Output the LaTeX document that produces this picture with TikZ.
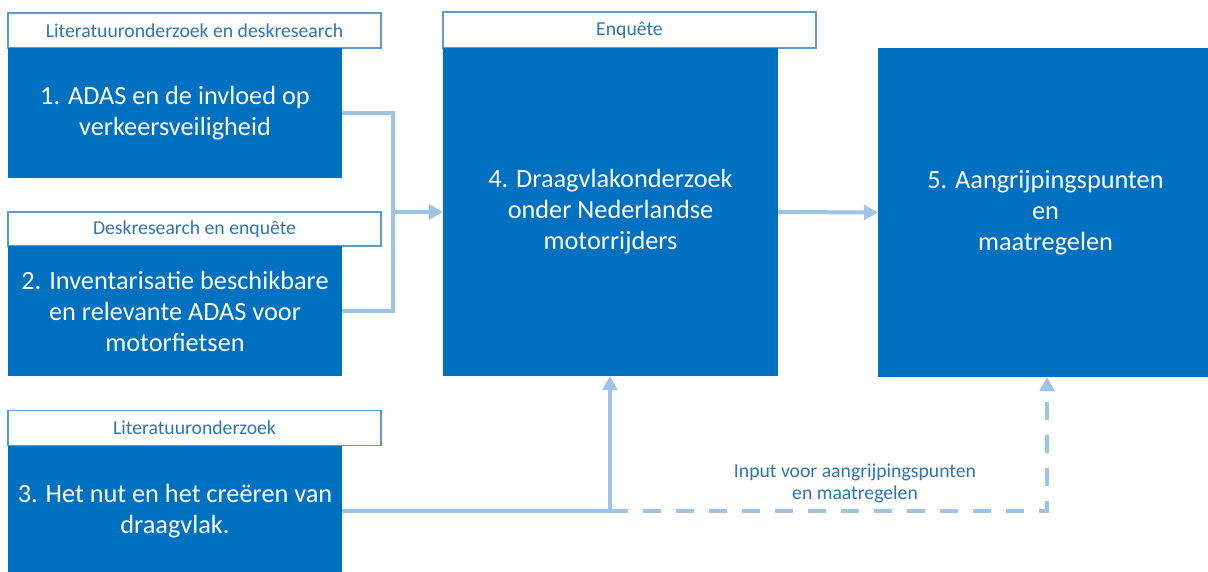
\documentclass[tikz,border=0pt]{standalone}
\usepackage{fontspec}
\setmainfont{Carlito}
\usetikzlibrary{arrows.meta}
\definecolor{boxblue}{HTML}{0070C0}
\definecolor{linkblue}{HTML}{9DC3E6}
\definecolor{tagtext}{HTML}{2E75B6}
\definecolor{tagline}{HTML}{5B9BD5}
\tikzset{
  stage/.style={fill=boxblue, draw=none, text=white, align=center,
    minimum width=334pt, inner sep=0pt, font=\fontsize{26.3}{31}\selectfont},
  tag/.style={fill=white, draw=tagline, line width=1.3pt, text=tagtext,
    minimum width=373pt, inner sep=0pt, font=\fontsize{19.7}{22}\selectfont},
  link/.style={draw=linkblue, line width=4pt},
  arr/.style={link, -{Triangle[length=14pt,width=15pt]}},
  note/.style={text=tagtext, align=center, font=\fontsize{19.7}{22}\selectfont}
}
\begin{document}
\begin{tikzpicture}[x=1pt,y=-1pt]
\useasboundingbox (0,0) rectangle (1208,572);
\fill[white] (0,0) rectangle (1208,572);

% left column
\node[tag, minimum height=35pt] (t1) at (194.5,30.5) {Literatuuronderzoek en deskresearch};
\node[stage, minimum height=130pt] (b1) at (175,113) {1. ADAS en de invloed op\\verkeersveiligheid};
\node[tag, minimum height=34pt] (t2) at (194.5,229) {Deskresearch en enquête};
\node[stage, minimum height=130pt] (b2) at (175,311) {2. Inventarisatie beschikbare\\en relevante ADAS voor\\motorfietsen};
\node[tag, minimum height=35pt] (t3) at (194.5,428) {Literatuuronderzoek};
\node[stage, minimum height=130pt] (b3) at (175,511) {3. Het nut en het creëren van\\draagvlak.};

% middle and right
\node[tag, minimum height=36pt] (t4) at (629.5,30) {Enquête};
\node[stage, minimum width=335pt, minimum height=328pt] (b4) at (610.5,212) {4. Draagvlakonderzoek\\onder Nederlandse\\motorrijders};
\node[stage, minimum width=335pt, minimum height=329pt] (b5) at (1045.5,212.5) {5. Aangrijpingspunten\\en\\maatregelen};

% connectors
\coordinate (j) at (393,212);
\draw[link] (b1.east) -| (j) |- (b2.east);
\draw[arr] (j) -- (b4.west |- j);
\draw[arr] (b4.east) -- (b5.west);

\coordinate (k) at (610,511);
\coordinate (m) at (1047,511);
\draw[link] (b3.east |- k) -- (k);
\draw[arr] (k) -- (k |- b4.south);
\draw[arr, dash pattern=on 18pt off 15pt] (k) -- (m) -- (m |- b5.south);

\node[note] (n) at (855,483) {Input voor aangrijpingspunten\\en maatregelen};
\end{tikzpicture}
\end{document}
